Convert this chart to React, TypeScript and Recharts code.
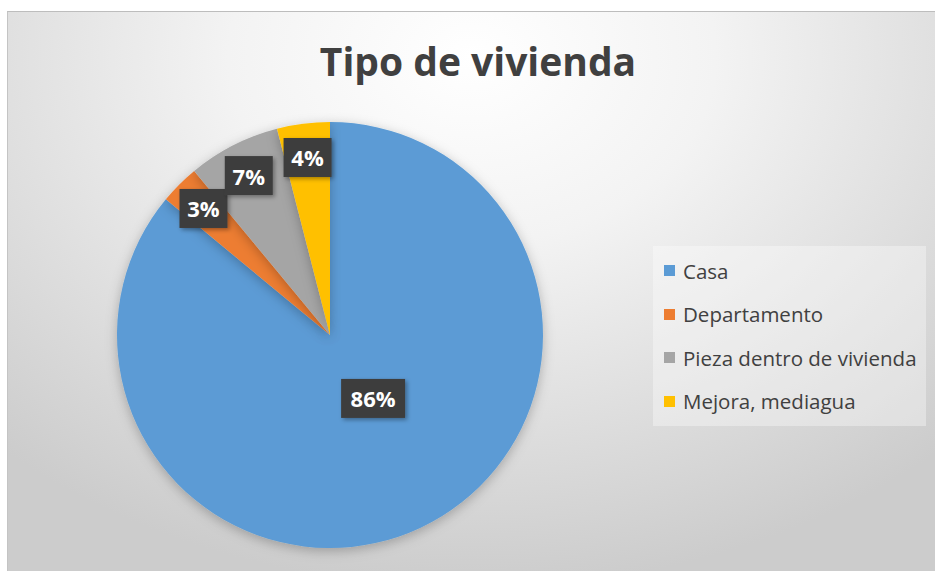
import React from 'react'
import { Cell, Legend, Pie, PieChart } from 'recharts'

// Tipo de vivienda, percent of households
const categories = ['Casa', 'Departamento', 'Pieza dentro de vivienda', 'Mejora, mediagua']
const shares = [86, 3, 7, 4]
const colors = ['#5B9BD5', '#ED7D31', '#A5A5A5', '#FFC000']

const data = categories.map((name, i) => ({ name, value: shares[i] }))

const RAD = Math.PI / 180
const FONT = '"Open Sans", "Noto Sans", sans-serif'

function renderLabel(props: any) {
    const { cx, cy, midAngle, outerRadius, percent, value } = props
    // big slice label sits toward the centre (nudged like Excel's best fit), small ones near the rim
    const big = percent > 0.5
    const r = outerRadius * (big ? 0.36 : 0.84)
    const a = big ? midAngle + 9 : midAngle
    const x = cx + r * Math.cos(-a * RAD)
    const y = cy + r * Math.sin(-a * RAD)
    const text = `${value}%`
    const w = text.length > 2 ? 64 : 48
    const h = 39
    return (
        <g>
            <rect
                x={x - w / 2}
                y={y - h / 2}
                width={w}
                height={h}
                fill='#3d3d3d'
                filter='url(#boxShadow)'
            />
            <text
                x={x}
                y={y}
                fill='#ffffff'
                fontFamily={FONT}
                fontWeight={700}
                fontSize={22}
                textAnchor='middle'
                dominantBaseline='central'
            >
                {text}
            </text>
        </g>
    )
}

function LegendBox({ payload }: any) {
    const items = [...(payload || [])].sort(
        (a: any, b: any) => categories.indexOf(a.value) - categories.indexOf(b.value)
    )
    return (
        <div
            style={{
                width: 273,
                height: 180,
                background: 'rgba(255,255,255,0.35)',
                boxSizing: 'border-box',
                paddingTop: 3,
            }}
        >
            {items.map((item: any) => (
                <div
                    key={item.value}
                    style={{
                        display: 'flex',
                        alignItems: 'center',
                        height: 43.5,
                        paddingLeft: 11,
                        fontFamily: FONT,
                        fontSize: 20.5,
                        color: '#404040',
                    }}
                >
                    <span
                        style={{
                            display: 'inline-block',
                            width: 11,
                            height: 11,
                            background: item.color,
                            marginRight: 8,
                        }}
                    />
                    {item.value}
                </div>
            ))}
        </div>
    )
}

export default function App() {
    return (
        <div
            style={{
                position: 'absolute',
                left: 7,
                top: 11,
                width: 928,
                height: 560,
                background:
                    'radial-gradient(ellipse 75% 95% at 50% 8%, #ffffff 0%, #f3f3f3 35%, #d8d8d8 80%, #cccccc 100%)',
                borderTop: '1px solid #bdbdbd',
                borderLeft: '1px solid #c4c4c4',
                overflow: 'hidden',
            }}
        >
            <svg width={0} height={0} style={{ position: 'absolute' }}>
                <defs>
                    <filter id='pieShadow' x='-20%' y='-20%' width='140%' height='140%'>
                        <feDropShadow dx='0' dy='3' stdDeviation='6' floodColor='#000' floodOpacity='0.25' />
                    </filter>
                    <filter id='boxShadow' x='-30%' y='-30%' width='160%' height='160%'>
                        <feDropShadow dx='2' dy='2' stdDeviation='2' floodColor='#000' floodOpacity='0.35' />
                    </filter>
                </defs>
            </svg>
            <div
                style={{
                    position: 'absolute',
                    left: 0,
                    top: 22,
                    width: 940,
                    textAlign: 'center',
                    fontFamily: FONT,
                    fontWeight: 700,
                    fontSize: 39,
                    color: '#404040',
                }}
            >
                Tipo de vivienda
            </div>
            <PieChart width={928} height={560}>
                <Pie
                    data={data}
                    dataKey='value'
                    nameKey='name'
                    cx={317}
                    cy={318}
                    outerRadius={213}
                    startAngle={90}
                    endAngle={-270}
                    stroke='none'
                    label={renderLabel}
                    labelLine={false}
                    isAnimationActive={false}
                    style={{ filter: 'url(#pieShadow)' }}
                >
                    {data.map((d, i) => (
                        <Cell key={d.name} fill={colors[i]} />
                    ))}
                </Pie>
                <Legend
                    content={<LegendBox />}
                    wrapperStyle={{ left: 645, top: 234, width: 273, height: 180 }}
                />
            </PieChart>
        </div>
    )
}
